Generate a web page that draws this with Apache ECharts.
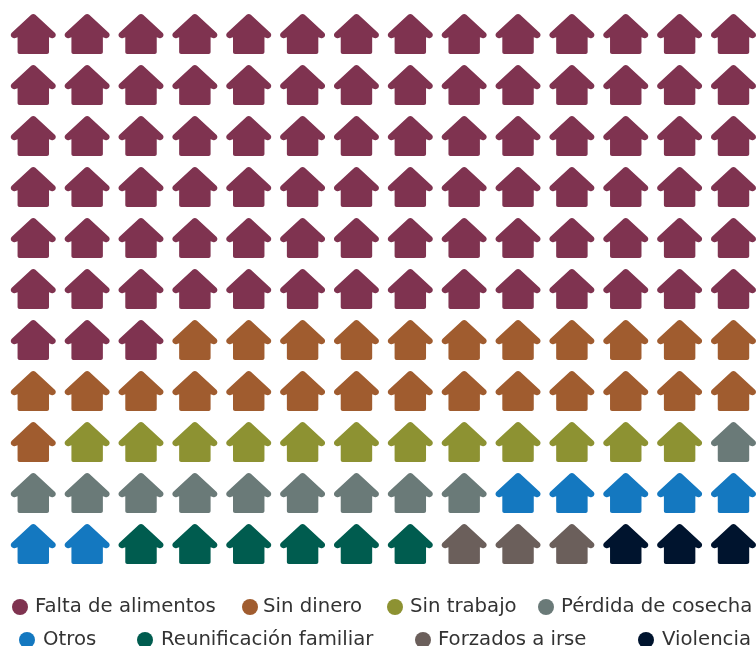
<!DOCTYPE html>
<html><head><meta charset="utf-8">
<style>html,body{margin:0;padding:0;background:#fff}#c{width:756px;height:646px}</style>
<script src="https://cdn.jsdelivr.net/npm/echarts@6/dist/echarts.min.js"></script>
</head><body><div id="c"></div>
<script>
const categories = ["Falta de alimentos","Sin dinero","Sin trabajo","Pérdida de cosecha","Otros","Reunificación familiar","Forzados a irse","Violencia"];
const counts = [87,26,12,10,7,6,3,3];
const colors = ["#7f3350","#a05c2f","#8d9232","#6a7a78","#1478c0","#005c4f","#6b5f5b","#00142e"];
const perRow = 14;
const legendLeft = [12,242,387,538,19,137,415,638];
const legendTop = [597,597,597,597,630,630,630,630];
const textShift = [2,0,2,2,3,3,2,3];
const house = "path://M20.4 1.1C21.6 0 23.4 0 24.6 1.1L44 19C45.2 20.2 45.3 22 44.2 23.2C43.2 24.4 41.6 24.6 40.4 24L38.2 23.4L38.2 38C38.2 39.2 37.4 40 36.2 40L8.8 40C7.6 40 6.8 39.2 6.8 38L6.8 23.4L4.6 24C3.4 24.6 1.8 24.4 0.8 23.2C-0.3 22 -0.2 20.2 1 19Z";

let idx = 0;
const series = categories.map((name,i)=>{
  const data=[];
  for(let k=0;k<counts[i];k++){ data.push([idx%perRow, Math.floor(idx/perRow)]); idx++; }
  return {name,type:'scatter',data,symbol:house,symbolSize:[45,40],itemStyle:{color:colors[i],opacity:1},silent:true,animation:false};
});
const legend = categories.map((name,i)=>({
  data:[name],left:legendLeft[i],top:legendTop[i],padding:0,itemWidth:16,itemHeight:16,icon:'circle',selectedMode:false,
  itemStyle:{opacity:1},
  textStyle:{fontFamily:'DejaVu Sans',fontSize:19.7,color:'#333',padding:[0,0,0,textShift[i]]}
}));
const chart = echarts.init(document.getElementById('c'),null,{renderer:'canvas'});
chart.setOption({
  animation:false,
  legend,
  grid:{left:0,right:0,top:0,bottom:0},
  xAxis:{type:'value',min:-0.618,max:13.418,show:false},
  yAxis:{type:'value',min:-0.667,max:12,inverse:true,show:false},
  series
});
</script></body></html>
